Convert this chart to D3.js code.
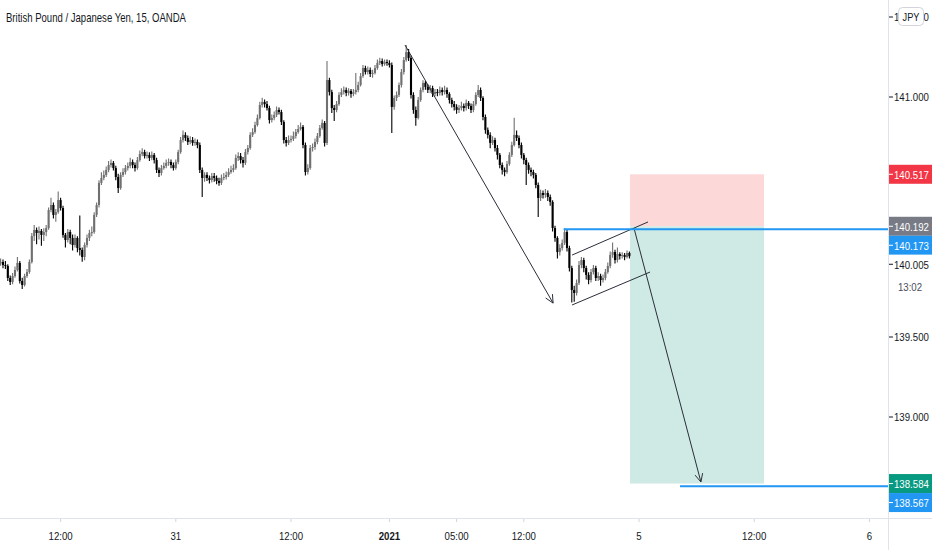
<!DOCTYPE html>
<html>
<head>
<meta charset="utf-8">
<script src="https://cdn.jsdelivr.net/npm/d3@7"></script>
<style>
  body { margin: 0; background: #fff; overflow: hidden; }
  svg { display: block; font-family: "Liberation Sans", "Noto Sans", sans-serif; }
</style>
</head>
<body>
<svg id="chart" width="932" height="550"></svg>
<script>
// GBPJPY 15m candles, [open, high, low, close], one per bar index
const candles = [
  [139.960,139.990,139.945,139.969],[139.969,139.985,139.930,139.950],[139.950,139.975,139.925,139.944],[139.944,139.955,139.850,139.869],
  [139.869,139.885,139.825,139.844],[139.844,139.900,139.830,139.881],[139.881,139.940,139.870,139.919],[139.919,140.000,139.910,139.963],
  [139.963,139.975,139.835,139.850],[139.850,139.870,139.800,139.825],[139.825,139.895,139.815,139.881],[139.881,139.925,139.870,139.906],
  [139.906,139.985,139.895,139.969],[139.969,140.150,139.960,140.131],[140.131,140.200,140.100,140.169],[140.169,140.185,140.080,140.150],
  [140.150,140.190,140.110,140.163],[140.163,140.175,140.070,140.138],[140.138,140.180,140.100,140.156],[140.156,140.200,140.130,140.181],
  [140.181,140.310,140.170,140.294],[140.294,140.370,140.280,140.325],[140.325,140.340,140.240,140.263],[140.263,140.300,140.220,140.281],
  [140.281,140.410,140.270,140.356],[140.356,140.370,140.290,140.306],[140.306,140.320,140.120,140.138],[140.138,140.150,140.060,140.106],
  [140.106,140.175,140.090,140.156],[140.156,140.170,140.080,140.119],[140.119,140.140,140.040,140.075],[140.075,140.140,140.060,140.119],
  [140.119,140.130,140.030,140.056],[140.056,140.260,140.010,140.044],[140.044,140.060,139.970,140.000],[140.000,140.090,139.980,140.075],
  [140.075,140.140,140.060,140.119],[140.119,140.170,140.100,140.150],[140.150,140.190,140.130,140.156],[140.156,140.280,140.145,140.263],
  [140.263,140.340,140.250,140.325],[140.325,140.480,140.310,140.463],[140.463,140.530,140.450,140.494],[140.494,140.540,140.480,140.513],
  [140.513,140.565,140.500,140.544],[140.544,140.600,140.530,140.575],[140.575,140.610,140.560,140.588],[140.588,140.600,140.540,140.556],
  [140.556,140.570,140.480,140.500],[140.500,140.520,140.400,140.431],[140.431,140.530,140.420,140.513],[140.513,140.555,140.500,140.531],
  [140.531,140.575,140.515,140.556],[140.556,140.590,140.540,140.569],[140.569,140.620,140.555,140.594],[140.594,140.610,140.555,140.575],
  [140.575,140.590,140.535,140.556],[140.556,140.625,140.545,140.606],[140.606,140.665,140.595,140.644],[140.644,140.680,140.630,140.656],
  [140.656,140.670,140.615,140.631],[140.631,140.660,140.615,140.638],[140.638,140.655,140.600,140.619],[140.619,140.660,140.605,140.638],
  [140.638,140.650,140.585,140.606],[140.606,140.620,140.525,140.544],[140.544,140.560,140.500,140.525],[140.525,140.575,140.510,140.556],
  [140.556,140.590,140.545,140.569],[140.569,140.610,140.555,140.588],[140.588,140.615,140.570,140.594],[140.594,140.610,140.555,140.575],
  [140.575,140.590,140.540,140.556],[140.556,140.610,140.545,140.594],[140.594,140.670,140.580,140.656],[140.656,140.750,140.645,140.731],
  [140.731,140.790,140.715,140.763],[140.763,140.780,140.725,140.744],[140.744,140.760,140.700,140.719],[140.719,140.755,140.705,140.731],
  [140.731,140.750,140.695,140.713],[140.713,140.740,140.695,140.719],[140.719,140.735,140.680,140.700],[140.700,140.715,140.525,140.544],
  [140.544,140.560,140.375,140.494],[140.494,140.530,140.470,140.513],[140.513,140.530,140.475,140.494],[140.494,140.510,140.460,140.481],
  [140.481,140.525,140.465,140.506],[140.506,140.525,140.470,140.494],[140.494,140.510,140.455,140.475],[140.475,140.495,140.445,140.463],
  [140.463,140.515,140.450,140.494],[140.494,140.525,140.480,140.500],[140.500,140.535,140.485,140.513],[140.513,140.555,140.500,140.531],
  [140.531,140.570,140.520,140.544],[140.544,140.580,140.530,140.556],[140.556,140.640,140.545,140.619],[140.619,140.655,140.600,140.631],
  [140.631,140.650,140.585,140.606],[140.606,140.625,140.560,140.588],[140.588,140.675,140.575,140.656],[140.656,140.700,140.640,140.681],
  [140.681,140.780,140.670,140.763],[140.763,140.805,140.750,140.781],[140.781,140.845,140.770,140.825],[140.825,140.890,140.815,140.869],
  [140.869,140.970,140.860,140.950],[140.950,140.995,140.935,140.969],[140.969,140.985,140.935,140.956],[140.956,140.975,140.915,140.931],
  [140.931,140.945,140.835,140.856],[140.856,140.890,140.840,140.869],[140.869,140.910,140.855,140.888],[140.888,140.940,140.875,140.919],
  [140.919,140.935,140.890,140.906],[140.906,140.920,140.825,140.844],[140.844,140.855,140.710,140.731],[140.731,140.750,140.690,140.713],
  [140.713,140.760,140.700,140.731],[140.731,140.760,140.715,140.738],[140.738,140.785,140.725,140.756],[140.756,140.800,140.740,140.781],
  [140.781,140.825,140.770,140.800],[140.800,140.840,140.790,140.813],[140.813,140.825,140.680,140.700],[140.700,140.715,140.510,140.531],
  [140.531,140.580,140.515,140.556],[140.556,140.700,140.545,140.681],[140.681,140.710,140.660,140.688],[140.688,140.740,140.670,140.719],
  [140.719,140.775,140.705,140.756],[140.756,140.825,140.745,140.806],[140.806,140.860,140.795,140.838],[140.838,140.850,140.690,140.713],
  [140.713,141.225,140.700,141.106],[141.106,141.120,141.010,141.031],[141.031,141.045,140.900,140.931],[140.931,140.950,140.850,140.919],
  [140.919,140.975,140.905,140.956],[140.956,141.030,140.945,141.013],[141.013,141.055,141.000,141.031],[141.031,141.065,141.015,141.044],
  [141.044,141.060,141.005,141.025],[141.025,141.055,141.010,141.038],[141.038,141.050,140.995,141.019],[141.019,141.050,141.005,141.031],
  [141.031,141.150,141.015,141.044],[141.044,141.095,141.030,141.075],[141.075,141.150,141.065,141.131],[141.131,141.200,141.120,141.181],
  [141.181,141.195,141.140,141.156],[141.156,141.190,141.140,141.169],[141.169,141.185,141.125,141.144],[141.144,141.170,141.120,141.150],
  [141.150,141.200,141.140,141.181],[141.181,141.235,141.170,141.213],[141.213,141.245,141.200,141.225],[141.225,141.240,141.190,141.206],
  [141.206,141.235,141.195,141.219],[141.219,141.235,141.195,141.213],[141.213,141.230,141.185,141.200],[141.200,141.215,140.775,140.938],
  [140.938,141.010,140.920,140.994],[140.994,141.035,140.975,141.013],[141.013,141.090,141.000,141.075],[141.075,141.175,141.060,141.156],
  [141.156,141.250,141.140,141.231],[141.231,141.325,141.220,141.281],[141.281,141.300,141.225,141.244],[141.244,141.260,140.990,141.013],
  [141.013,141.030,140.895,140.919],[140.919,140.940,140.820,140.869],[140.869,141.000,140.860,140.981],[140.981,141.060,140.970,141.044],
  [141.044,141.105,141.030,141.088],[141.088,141.100,141.045,141.063],[141.063,141.080,141.025,141.044],[141.044,141.075,141.025,141.056],
  [141.056,141.070,141.000,141.019],[141.019,141.050,141.005,141.031],[141.031,141.050,141.005,141.025],[141.025,141.065,141.010,141.044],
  [141.044,141.060,141.010,141.031],[141.031,141.070,141.015,141.044],[141.044,141.060,140.995,141.019],[141.019,141.030,140.960,140.981],
  [140.981,140.995,140.935,140.956],[140.956,140.975,140.915,140.938],[140.938,140.955,140.895,140.919],[140.919,140.950,140.900,140.931],
  [140.931,140.970,140.915,140.944],[140.944,140.960,140.910,140.931],[140.931,140.985,140.915,140.963],[140.963,140.975,140.925,140.944],
  [140.944,140.960,140.900,140.919],[140.919,140.975,140.905,140.956],[140.956,141.030,140.945,141.013],[141.013,141.075,141.000,141.044],
  [141.044,141.060,140.975,140.994],[140.994,141.005,140.855,140.875],[140.875,140.890,140.770,140.794],[140.794,140.810,140.740,140.763],
  [140.763,140.780,140.680,140.713],[140.713,140.755,140.700,140.731],[140.731,140.745,140.660,140.681],[140.681,140.700,140.610,140.638],
  [140.638,140.650,140.555,140.575],[140.575,140.590,140.515,140.544],[140.544,140.560,140.505,140.531],[140.531,140.600,140.520,140.581],
  [140.581,140.655,140.570,140.638],[140.638,140.720,140.625,140.700],[140.700,140.870,140.690,140.763],[140.763,140.790,140.725,140.744],
  [140.744,140.760,140.680,140.700],[140.700,140.715,140.615,140.638],[140.638,140.650,140.580,140.606],[140.606,140.620,140.450,140.575],
  [140.575,140.590,140.520,140.544],[140.544,140.560,140.505,140.531],[140.531,140.545,140.490,140.513],[140.513,140.525,140.430,140.450],
  [140.450,140.465,140.250,140.369],[140.369,140.420,140.350,140.400],[140.400,140.415,140.365,140.388],[140.388,140.425,140.370,140.400],
  [140.400,140.415,140.350,140.375],[140.375,140.390,140.320,140.344],[140.344,140.355,140.160,140.181],[140.181,140.195,140.095,140.119],
  [140.119,140.130,139.990,140.031],[140.031,140.080,140.010,140.056],[140.056,140.110,140.040,140.088],[140.088,140.180,140.075,140.156],
  [140.156,140.170,140.035,140.056],[140.056,140.070,139.910,139.931],[139.931,139.945,139.715,139.794],[139.794,139.820,139.720,139.775],
  [139.775,139.860,139.760,139.838],[139.838,139.975,139.825,139.950],[139.950,140.000,139.930,139.981],[139.981,139.995,139.905,139.931],
  [139.931,139.945,139.860,139.888],[139.888,139.905,139.830,139.856],[139.856,139.925,139.840,139.906],[139.906,139.950,139.890,139.931],
  [139.931,139.945,139.850,139.869],[139.869,139.905,139.850,139.881],[139.881,139.895,139.820,139.856],[139.856,139.890,139.840,139.869],
  [139.869,139.925,139.855,139.906],[139.906,139.965,139.895,139.944],[139.944,140.035,139.930,140.013],[140.013,140.090,139.995,140.031],
  [140.031,140.045,139.960,139.981],[139.981,140.060,139.965,140.019],[140.019,140.030,139.985,140.006],[140.006,140.030,139.990,140.013],
  [140.013,140.025,139.980,140.000],[140.000,140.040,139.990,140.025],[140.025,140.035,139.990,140.005]
];

// time axis: bar index of each label
const timeTickIdx = [25, 73, 121, 162, 190, 218, 266, 314, 362];
const timeTickText = ["12:00", "31", "12:00", "2021", "05:00", "12:00", "5", "12:00", "6"];

// price axis grid values
const priceTicks = [141.5, 141.0, 140.5, 140.0, 139.5, 139.0, 138.5];

// short position tool: bar range and stop / entry / target prices
const positionIdx = [262.25, 318.1];
const positionPrices = [140.517, 140.192, 138.584];

// horizontal rays (start bar, price)
const rayStartIdx = [234.6, 283.1];
const rayPrices = [140.173, 138.567];

// hand drawn lines [[bar, price], [bar, price]]
const arrowDown1 = [[168.5, 141.325], [230.2, 139.712]];
const channelTop = [[238.1, 140.012], [269.75, 140.219]];
const channelBottom = [[238.1, 139.700], [270.6, 139.906]];
const arrowDown2 = [[263.9, 140.181], [291.8, 138.594]];

// price scale labels
const markerNames = ["stop", "entry", "rayHigh", "last", "target", "rayLow"];
const markerPrices = [140.517, 140.192, 140.173, 140.005, 138.584, 138.567];
const countdownText = "13:02";

const markerStyle = {
    stop:    { bg: "#f23645", fg: "#fff" },
    entry:   { bg: "#787b86", fg: "#fff" },
    rayHigh: { bg: "#2196f3", fg: "#fff" },
    last:    { bg: "#fff",    fg: "#131722" },
    target:  { bg: "#089981", fg: "#fff" },
    rayLow:  { bg: "#2196f3", fg: "#fff" }
};

const plotW = 888, plotH = 518;
const upColor = "#707070", downColor = "#000", lineColor = "#2a2e39";
const squeeze = 0.84;

const svg = d3.select("#chart");
const x = d3.scaleLinear().domain([0, 370]).range([0.6, 0.6 + 2.4 * 370]);
const y = d3.scaleLinear().domain([140, 141]).range([257, 97]);

svg.append("defs").append("clipPath").attr("id", "plotClip")
    .append("rect").attr("width", plotW).attr("height", plotH);

const plot = svg.append("g").attr("clip-path", "url(#plotClip)");

//position zones (behind candles)
plot.append("rect")
    .attr("x", x(positionIdx[0]))
    .attr("y", y(positionPrices[0]))
    .attr("width", x(positionIdx[1]) - x(positionIdx[0]))
    .attr("height", y(positionPrices[1]) - y(positionPrices[0]))
    .attr("fill", "#fdd8d8");
plot.append("rect")
    .attr("x", x(positionIdx[0]))
    .attr("y", y(positionPrices[1]))
    .attr("width", x(positionIdx[1]) - x(positionIdx[0]))
    .attr("height", y(positionPrices[2]) - y(positionPrices[1]))
    .attr("fill", "#cfeae5");

//candles
const candleG = plot.append("g")
    .selectAll("g")
    .data(candles)
    .join("g")
    .attr("fill", d => d[3] >= d[0] ? upColor : downColor)
    .attr("stroke", d => d[3] >= d[0] ? upColor : downColor);

candleG.append("line")
    .attr("x1", (d, i) => x(i)).attr("x2", (d, i) => x(i))
    .attr("y1", d => y(d[1])).attr("y2", d => y(d[2]))
    .attr("stroke-width", 1.1);

candleG.append("rect")
    .attr("x", (d, i) => x(i) - 1.05)
    .attr("width", 2.1)
    .attr("y", d => y(Math.max(d[0], d[3])))
    .attr("height", d => Math.max(1, Math.abs(y(d[0]) - y(d[3]))))
    .attr("stroke", "none");

//drawings
function segment(pts) {
    plot.append("line")
        .attr("x1", x(pts[0][0])).attr("y1", y(pts[0][1]))
        .attr("x2", x(pts[1][0])).attr("y2", y(pts[1][1]))
        .attr("stroke", lineColor).attr("stroke-width", 1);
}

function arrow(pts) {
    segment(pts);
    const x1 = x(pts[1][0]), y1 = y(pts[1][1]);
    const ang = Math.atan2(y1 - y(pts[0][1]), x1 - x(pts[0][0]));
    const len = 9, spread = 0.45;
    const head = [ang + Math.PI - spread, ang + Math.PI + spread].map(a => [x1 + len * Math.cos(a), y1 + len * Math.sin(a)]);
    plot.append("path")
        .attr("d", `M${head[0][0]},${head[0][1]}L${x1},${y1}L${head[1][0]},${head[1][1]}`)
        .attr("fill", "none").attr("stroke", lineColor).attr("stroke-width", 1);
}

arrow(arrowDown1);
segment(channelTop);
segment(channelBottom);
arrow(arrowDown2);

//horizontal rays
rayPrices.forEach((p, k) => {
    plot.append("line")
        .attr("x1", x(rayStartIdx[k])).attr("x2", plotW)
        .attr("y1", y(p)).attr("y2", y(p))
        .attr("stroke", "#2196f3").attr("stroke-width", 2);
});

//scale borders
svg.append("line").attr("x1", plotW + 0.5).attr("x2", plotW + 0.5).attr("y1", 0).attr("y2", 550)
    .attr("stroke", "#e0e3eb");
svg.append("line").attr("x1", 0).attr("x2", 932).attr("y1", plotH + 0.5).attr("y2", plotH + 0.5)
    .attr("stroke", "#e0e3eb");

function label(g, px, py, str, anchor, fill, size, weight) {
    return g.append("text")
        .attr("transform", `translate(${px},${py}) scale(${squeeze},1)`)
        .attr("text-anchor", anchor)
        .attr("dominant-baseline", "central")
        .attr("font-size", size)
        .attr("font-weight", weight || "normal")
        .attr("fill", fill)
        .text(str);
}

//price scale labels, pushed apart like TradingView does
const markers = markerNames.map((n, k) => ({ name: n, price: markerPrices[k], cy: y(markerPrices[k]) }))
    .sort((a, b) => a.cy - b.cy);
const boxH = 19;
for (let k = 1; k < markers.length; k++) {
    markers[k].cy = Math.max(markers[k].cy, markers[k - 1].cy + boxH);
}

const axisG = svg.append("g");
priceTicks.forEach(p => {
    const py = y(p);
    if (markers.some(m => Math.abs(m.cy - py) < 14)) return; //hidden under a label
    axisG.append("line").attr("x1", plotW + 1).attr("x2", plotW + 5).attr("y1", py).attr("y2", py)
        .attr("stroke", "#131722");
    label(axisG, plotW + 6, py, d3.format(".3f")(p), "start", "#131722", 11.5);
});

markers.forEach(m => {
    const st = markerStyle[m.name];
    axisG.append("rect")
        .attr("x", plotW + 1).attr("y", m.cy - boxH / 2)
        .attr("width", 932 - plotW).attr("height", boxH)
        .attr("fill", st.bg);
    axisG.append("line").attr("x1", plotW + 1).attr("x2", plotW + 5).attr("y1", m.cy).attr("y2", m.cy)
        .attr("stroke", st.fg);
    label(axisG, plotW + 6, m.cy, d3.format(".3f")(m.price), "start", st.fg, 11.5);
    if (m.name === "last") {
        label(axisG, 910, m.cy + 22, countdownText, "middle", "#4a4e59", 11.5);
    }
});

//currency button, drawn over the top tick label as in TradingView
axisG.append("rect").attr("x", 898.5).attr("y", 7.5).attr("width", 25).attr("height", 18).attr("rx", 4)
    .attr("fill", "#fff").attr("stroke", "#d1d4dc");
label(axisG, 911, 17, "JPY", "middle", "#131722", 11);

//time scale
const timeG = svg.append("g");
timeTickIdx.forEach((t, k) => {
    timeG.append("line").attr("x1", x(t)).attr("x2", x(t)).attr("y1", plotH + 1).attr("y2", plotH + 4)
        .attr("stroke", "#d1d4dc");
    label(timeG, x(t), 536, timeTickText[k], "middle", "#131722", 11.5, timeTickText[k] === "2021" ? "bold" : "normal");
});

//title
svg.append("text")
    .attr("x", 6).attr("y", 17)
    .attr("dominant-baseline", "central")
    .attr("font-size", 13.5)
    .attr("fill", "#131722")
    .attr("textLength", 180).attr("lengthAdjust", "spacingAndGlyphs")
    .text("British Pound / Japanese Yen, 15, OANDA");
</script>
</body>
</html>
